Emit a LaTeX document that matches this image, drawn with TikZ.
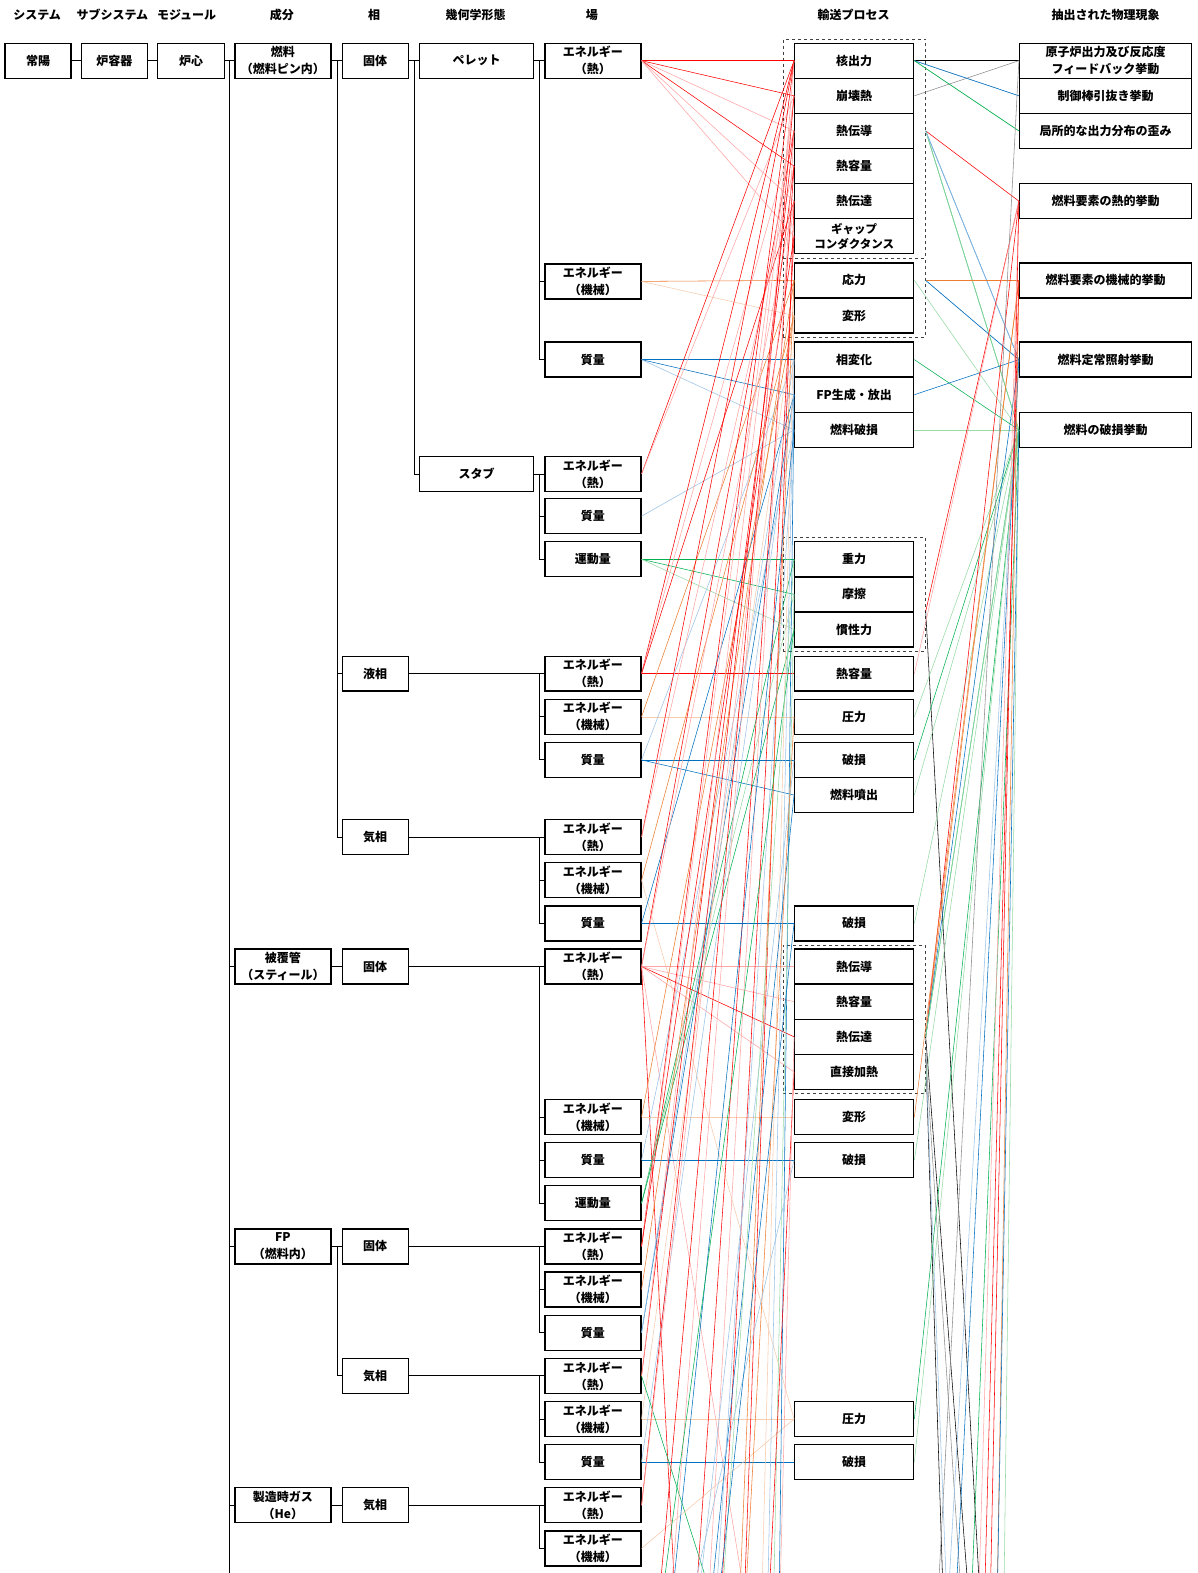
\documentclass[tikz,border=0pt]{standalone}
\usepackage{fontspec}
\setmainfont{Noto Sans CJK JP}
\usetikzlibrary{fit}

\definecolor{cR}{RGB}{255,0,0}
\definecolor{cRl}{RGB}{255,165,165}
\definecolor{cO}{RGB}{237,125,49}
\definecolor{cOl}{RGB}{248,203,173}
\definecolor{cB}{RGB}{0,112,192}
\definecolor{cBl}{RGB}{155,194,230}
\definecolor{cG}{RGB}{0,176,80}
\definecolor{cGl}{RGB}{150,218,165}
\definecolor{cGr}{RGB}{140,140,140}

\newcommand\lk[3]{\draw[#1] (#2) -- (#3);}

\begin{document}
\begin{tikzpicture}[x=1.0033pt,y=-1.0033pt,
  txt/.style={font=\fontsize{12}{17}\selectfont\bfseries},
  hdr/.style={txt, inner sep=0pt},
  box/.style={txt, draw=black, line width=1.3pt, fill=white, minimum height=35pt,
              inner sep=0.5pt, align=center},
  fld/.style={box, minimum width=96pt},
  trp/.style={box, minimum width=119pt},
  phn/.style={box, minimum width=172pt},
  grp/.style={draw=black!75, dashed, line width=0.7pt, inner xsep=11pt, inner ysep=3.5pt},
  tree/.style={draw=black, line width=0.9pt},
  ln/.style={line width=0.55pt},
  R/.style={ln, cR}, Rl/.style={ln, cRl}, O/.style={ln, cO}, Ol/.style={ln, cOl},
  B/.style={ln, cB}, Bl/.style={ln, cBl}, G/.style={ln, cG}, Gl/.style={ln, cGl},
  K/.style={ln, black}, Gr/.style={ln, cGr}]

\useasboundingbox (0,0) rectangle (1194,1568);
\clip (0,0) rectangle (1194,1568);
\fill[white] (0,0) rectangle (1194,1568);

% ---------------- column headings ----------------
\node[hdr] (hSys)  at (37,15)   {システム};
\node[hdr] (hSub)  at (112,15)  {サブシステム};
\node[hdr] (hMod)  at (186,15)  {モジュール};
\node[hdr] (hComp) at (281,15)  {成分};
\node[hdr] (hPh)   at (373,15)  {相};
\node[hdr] (hGeo)  at (474,15)  {幾何学形態};
\node[hdr] (hFld)  at (590,15)  {場};
\node[hdr] (hTr)   at (851,15)  {輸送プロセス};
\node[hdr] (hPhen) at (1102,15) {抽出された物理現象};

% ---------------- hierarchy boxes ----------------
\node[box, minimum width=66pt]  (sys)   at (38,60.5)    {常陽};
\node[box, minimum width=66pt]  (sub)   at (114,60.5)   {炉容器};
\node[box, minimum width=67pt]  (mod)   at (190.5,60.5) {炉心};
\node[box, minimum width=96pt]  (fuel)  at (282,60.5)   {燃料\\（燃料ピン内）};
\node[box, minimum width=66pt]  (fsol)  at (374,60.5)   {固体};
\node[box, minimum width=114pt] (pel)   at (475,60.5)   {ペレット};
\node[box, minimum width=114pt] (stub)  at (475,472.5)  {スタブ};
\node[box, minimum width=66pt]  (liq)   at (374,671.5)  {液相};
\node[box, minimum width=66pt]  (fgas)  at (374,834.5)  {気相};
\node[box, minimum width=96pt]  (clad)  at (282,963.5)  {被覆管\\（スティール）};
\node[box, minimum width=66pt]  (csol)  at (374,963.5)  {固体};
\node[box, minimum width=96pt]  (fp)    at (282,1242.5) {FP\\（燃料内）};
\node[box, minimum width=66pt]  (fpsol) at (374,1242.5) {固体};
\node[box, minimum width=66pt]  (fpgas) at (374,1371.5) {気相};
\node[box, minimum width=96pt]  (he)    at (282,1500.5) {製造時ガス\\（He）};
\node[box, minimum width=66pt]  (hegas) at (374,1500.5) {気相};

% ---------------- fields ----------------
\node[fld] (pE) at (591,60.5)   {エネルギー\\（熱）};
\node[fld] (pM) at (591,280.5)  {エネルギー\\（機械）};
\node[fld] (pQ) at (591,358.5)  {質量};
\node[fld] (sE) at (591,472.5)  {エネルギー\\（熱）};
\node[fld] (sQ) at (591,514.5)  {質量};
\node[fld] (sP) at (591,557.5)  {運動量};
\node[fld] (lE) at (591,671.5)  {エネルギー\\（熱）};
\node[fld] (lM) at (591,714.5)  {エネルギー\\（機械）};
\node[fld] (lQ) at (591,757.5)  {質量};
\node[fld] (gE) at (591,834.5)  {エネルギー\\（熱）};
\node[fld] (gM) at (591,877.5)  {エネルギー\\（機械）};
\node[fld] (gQ) at (591,920.5)  {質量};
\node[fld] (cE) at (591,963.5)  {エネルギー\\（熱）};
\node[fld] (cM) at (591,1113.5) {エネルギー\\（機械）};
\node[fld] (cQ) at (591,1156.5) {質量};
\node[fld] (cP) at (591,1199.5) {運動量};
\node[fld] (fE) at (591,1242.5) {エネルギー\\（熱）};
\node[fld] (fM) at (591,1285.5) {エネルギー\\（機械）};
\node[fld] (fQ) at (591,1328.5) {質量};
\node[fld] (vE) at (591,1371.5) {エネルギー\\（熱）};
\node[fld] (vM) at (591,1414.5) {エネルギー\\（機械）};
\node[fld] (vQ) at (591,1457.5) {質量};
\node[fld] (hE) at (591,1500.5) {エネルギー\\（熱）};
\node[fld] (hM) at (591,1543.5) {エネルギー\\（機械）};

% ---------------- transport processes ----------------
\node[trp] (t1)  at (851.5,60.5)   {核出力};
\node[trp] (t2)  at (851.5,95.5)   {崩壊熱};
\node[trp] (t3)  at (851.5,130.5)  {熱伝導};
\node[trp] (t4)  at (851.5,165.5)  {熱容量};
\node[trp] (t5)  at (851.5,200.5)  {熱伝達};
\node[trp, font=\fontsize{11.5}{15}\selectfont\bfseries] (t6)  at (851.5,235.5)  {ギャップ\\コンダクタンス};
\node[trp] (t7)  at (851.5,279.5)  {応力};
\node[trp] (t8)  at (851.5,314.5)  {変形};
\node[trp] (t9)  at (851.5,358.5)  {相変化};
\node[trp] (t10) at (851.5,393.5)  {FP生成・放出};
\node[trp] (t11) at (851.5,428.5)  {燃料破損};
\node[trp] (t12) at (851.5,557.5)  {重力};
\node[trp] (t13) at (851.5,592.5)  {摩擦};
\node[trp] (t14) at (851.5,627.5)  {慣性力};
\node[trp] (t15) at (851.5,671.5)  {熱容量};
\node[trp] (t16) at (851.5,714.5)  {圧力};
\node[trp] (t17) at (851.5,757.5)  {破損};
\node[trp] (t18) at (851.5,792.5)  {燃料噴出};
\node[trp] (t19) at (851.5,920.5)  {破損};
\node[trp] (t20) at (851.5,963.5)  {熱伝導};
\node[trp] (t21) at (851.5,998.5)  {熱容量};
\node[trp] (t22) at (851.5,1033.5) {熱伝達};
\node[trp] (t23) at (851.5,1068.5) {直接加熱};
\node[trp] (t24) at (851.5,1113.5) {変形};
\node[trp] (t25) at (851.5,1156.5) {破損};
\node[trp] (t26) at (851.5,1414.5) {圧力};
\node[trp] (t27) at (851.5,1457.5) {破損};

\node[grp, fit=(t1)(t6)]      (D1) {};
\node[grp, fit=(t7)(t8)]      (D2) {};
\node[grp, fit=(t12)(t14)]    (D3) {};
\node[grp, fit=(t20)(t23)]    (D4) {};

% ---------------- extracted phenomena ----------------
\node[phn] (r1) at (1102,60.5)  {原子炉出力及び反応度\\フィードバック挙動};
\node[phn] (r2) at (1102,95.5)  {制御棒引抜き挙動};
\node[phn] (r3) at (1102,130.5) {局所的な出力分布の歪み};
\node[phn] (r4) at (1102,200.5) {燃料要素の熱的挙動};
\node[phn] (r5) at (1102,279.5) {燃料要素の機械的挙動};
\node[phn] (r6) at (1102,358.5) {燃料定常照射挙動};
\node[phn] (r7) at (1102,428.5) {燃料の破損挙動};

% ---------------- hierarchy lines ----------------
\coordinate (trTop) at (229,60.5);
\coordinate (trBot) at (229,1600);
\coordinate (phTop) at (336,60.5);
\coordinate (gmTop) at (413,60.5);
\draw[tree] (sys.east) -- (sub.west);
\draw[tree] (sub.east) -- (mod.west);
\draw[tree] (mod.east) -- (fuel.west);
\draw[tree] (trTop) -- (trBot);
\draw[tree] (trTop |- clad.west) -- (clad.west);
\draw[tree] (trTop |- fp.west) -- (fp.west);
\draw[tree] (trTop |- he.west) -- (he.west);
\draw[tree] (fuel.east) -- (fsol.west);
\draw[tree] (phTop) |- (liq.west);
\draw[tree] (phTop) |- (fgas.west);
\draw[tree] (fsol.east) -- (pel.west);
\draw[tree] (gmTop) |- (stub.west);
\draw[tree] (clad.east) -- (csol.west);
\draw[tree] (fp.east) -- (fpsol.west);
\draw[tree] (fp.east) ++(6,0) |- (fpgas.west);
\draw[tree] (he.east) -- (hegas.west);
% phase / shape to fields
\draw[tree] (pel.east) -- (pE.west);
\draw[tree] (pE.west) ++(-5,0) |- (pM.west);
\draw[tree] (pE.west) ++(-5,0) |- (pQ.west);
\draw[tree] (stub.east) -- (sE.west);
\draw[tree] (sE.west) ++(-5,0) |- (sQ.west);
\draw[tree] (sE.west) ++(-5,0) |- (sP.west);
\draw[tree] (liq.east) -- (lE.west);
\draw[tree] (lE.west) ++(-5,0) |- (lM.west);
\draw[tree] (lE.west) ++(-5,0) |- (lQ.west);
\draw[tree] (fgas.east) -- (gE.west);
\draw[tree] (gE.west) ++(-5,0) |- (gM.west);
\draw[tree] (gE.west) ++(-5,0) |- (gQ.west);
\draw[tree] (csol.east) -- (cE.west);
\draw[tree] (cE.west) ++(-5,0) |- (cM.west);
\draw[tree] (cE.west) ++(-5,0) |- (cQ.west);
\draw[tree] (cE.west) ++(-5,0) |- (cP.west);
\draw[tree] (fpsol.east) -- (fE.west);
\draw[tree] (fE.west) ++(-5,0) |- (fM.west);
\draw[tree] (fE.west) ++(-5,0) |- (fQ.west);
\draw[tree] (fpgas.east) -- (vE.west);
\draw[tree] (vE.west) ++(-5,0) |- (vM.west);
\draw[tree] (vE.west) ++(-5,0) |- (vQ.west);
\draw[tree] (hegas.east) -- (hE.west);
\draw[tree] (hE.west) ++(-5,0) |- (hM.west);

% ---------------- ends of links running past the lower edge ----------------
\coordinate (oL1) at (652,1650);  \coordinate (oL2) at (664,1650);
\coordinate (oL3) at (676,1650);  \coordinate (oL4) at (690,1650);
\coordinate (oL5) at (703,1650);  \coordinate (oL6) at (716,1650);
\coordinate (oL7) at (728,1650);  \coordinate (oL8) at (740,1650);
\coordinate (oL9) at (752,1650);  \coordinate (oL10) at (764,1650);
\coordinate (oL11) at (776,1650); \coordinate (oL12) at (684,1650);
\coordinate (oL13) at (710,1650); \coordinate (oL14) at (735,1650);
\coordinate (oL15) at (758,1650); \coordinate (oL16) at (770,1650);
\coordinate (oR1) at (932,1650);  \coordinate (oR2) at (942,1650);
\coordinate (oR3) at (950,1650);  \coordinate (oR4) at (958,1650);
\coordinate (oR5) at (966,1650);  \coordinate (oR6) at (974,1650);
\coordinate (oR7) at (980,1650);  \coordinate (oR8) at (986,1650);
\coordinate (oR9) at (993,1650);  \coordinate (oR10) at (1000,1650);
\coordinate (oR11) at (946,1650); \coordinate (oR12) at (962,1650);
\coordinate (oR13) at (970,1650);

% ---------------- field -> transport links ----------------
% pellet
\lk{R}{pE.east}{t1.west} \lk{R}{pE.east}{t2.west} \lk{Rl}{pE.east}{t3.west}
\lk{R}{pE.east}{t4.west} \lk{Rl}{pE.east}{t5.west} \lk{Rl}{pE.east}{t6.west}
\lk{O}{pM.east}{t7.west} \lk{Ol}{pM.east}{t8.west}
\lk{B}{pQ.east}{t9.west} \lk{B}{pQ.east}{t10.west} \lk{Bl}{pQ.east}{t11.west}
% stub
\lk{R}{sE.east}{t1.west} \lk{Rl}{sE.east}{t2.west}
\lk{Bl}{sQ.east}{t11.west}
\lk{G}{sP.east}{t12.west} \lk{G}{sP.east}{t13.west} \lk{Gl}{sP.east}{t14.west}
% liquid
\lk{R}{lE.east}{t15.west} \lk{R}{lE.east}{t1.west} \lk{Rl}{lE.east}{t3.west} \lk{R}{lE.east}{t5.west}
\lk{Ol}{lM.east}{t16.west} \lk{O}{lM.east}{t7.west}
\lk{B}{lQ.east}{t17.west} \lk{B}{lQ.east}{t18.west} \lk{Bl}{lQ.east}{t9.west}
% gas
\lk{R}{gE.east}{t1.west} \lk{Rl}{gE.east}{t4.west}
\lk{Ol}{gM.east}{t26.west} \lk{O}{gM.east}{t8.west}
\lk{B}{gQ.east}{t19.west} \lk{B}{gQ.east}{t10.west}
% cladding
\lk{Rl}{cE.east}{t20.west} \lk{Rl}{cE.east}{t21.west} \lk{R}{cE.east}{t22.west} \lk{Rl}{cE.east}{t23.west}
\lk{R}{cE.east}{t3.west} \lk{Rl}{cE.east}{t5.west}
\lk{R}{cE.east}{oL3} \lk{Rl}{cE.east}{oL9}
\lk{Ol}{cM.east}{t24.west} \lk{O}{cM.east}{t8.west}
\lk{B}{cQ.east}{t25.west} \lk{Bl}{cQ.east}{t11.west}
\lk{G}{cP.east}{t12.west} \lk{Gl}{cP.east}{t13.west} \lk{G}{cP.east}{t14.west}
% fission products
\lk{R}{fE.east}{t1.west} \lk{Rl}{fE.east}{t2.west} \lk{R}{fE.east}{t6.west}
\lk{O}{fM.east}{t7.west}
\lk{B}{fQ.east}{t10.west} \lk{Bl}{fQ.east}{t9.west}
\lk{R}{vE.east}{t4.west} \lk{Rl}{vE.east}{t2.west}
\lk{Ol}{vM.east}{t26.west} \lk{Ol}{vM.east}{t8.west}
\lk{B}{vQ.east}{t27.west} \lk{Bl}{vQ.east}{t10.west}
\lk{G}{vE.east}{oL7}
% fill gas
\lk{R}{hE.east}{t3.west} \lk{Rl}{hE.east}{t5.west}
\lk{Ol}{hM.east}{t26.west}
% links from the lower part of the chart
\lk{R}{oL1}{t2.west}  \lk{Rl}{oL2}{t1.west}  \lk{R}{oL4}{t4.west}
\lk{Rl}{oL5}{t3.west} \lk{R}{oL6}{t6.west}   \lk{R}{oL8}{t5.west}
\lk{Bl}{oL10}{t9.west} \lk{B}{oL11}{t10.west} \lk{Bl}{oL13}{t11.west}
\lk{O}{oL14}{t7.west} \lk{Ol}{oL15}{t8.west} \lk{Gl}{oL16}{t13.west}
\lk{B}{oL2}{t11.west} \lk{Bl}{oL4}{t17.west}
\lk{G}{oL1}{t14.west} \lk{B}{oL5}{t18.west}
\lk{Gl}{oL6}{t12.west} \lk{O}{oL8}{t16.west} \lk{R}{oL10}{t23.west}
\lk{Rl}{oL11}{t22.west} \lk{Bl}{oL3}{t25.west} \lk{B}{oL13}{t19.west}

% ---------------- transport -> phenomena links ----------------
\lk{K}{t1.east}{r1.west} \lk{Gr}{t2.east}{r1.west}
\lk{Bl}{t1.east}{r2.west} \lk{B}{t1.east}{r2.west}
\lk{Gl}{t1.east}{r3.west} \lk{G}{t1.east}{r3.west}
\lk{R}{t3.east -| D1.east}{r4.west}
\lk{B}{t3.east -| D1.east}{r6.west}
\lk{G}{t3.east -| D1.east}{r7.west}
\lk{Gl}{t3.east -| D1.east}{r7.west}
\lk{Bl}{t3.east -| D1.east}{r6.west}
\lk{O}{t7.east -| D2.east}{r5.west}
\lk{Bl}{t7.east -| D2.east}{r6.west}
\lk{B}{t7.east -| D2.east}{r6.west}
\lk{Gl}{t7.east}{r7.west}
\lk{G}{t9.east}{r7.west}
\lk{B}{t10.east}{r6.west}
\lk{Gl}{t11.east}{r7.west}
\lk{R}{t14.north -| D3.east}{r4.west}
\lk{K}{t14.north -| D3.east}{oR7}
\lk{Rl}{t15.east}{r4.west}
\lk{Gl}{t16.east}{r7.west}
\lk{G}{t17.east}{r7.west}
\lk{Gl}{t18.east}{r7.west}
\lk{Gl}{t19.east}{r7.west}
\lk{R}{t22.east -| D4.east}{r4.west}
\lk{O}{t22.east -| D4.east}{r5.west}
\lk{B}{t22.east -| D4.east}{r6.west}
\lk{G}{t22.east -| D4.east}{r7.west}
\lk{Gl}{t22.east -| D4.east}{r7.west}
\lk{K}{t23.north -| D4.east}{oR2}
\lk{Bl}{t23.north -| D4.east}{oR11}
\lk{Gr}{t23.north -| D4.east}{oR12}
\lk{K}{t22.east -| D4.east}{oR13}
\lk{O}{t24.east}{r5.west}
\lk{Gl}{t25.east}{r7.west}
\lk{G}{t26.east}{r7.west}
\lk{Gl}{t27.east}{r7.west}
% from the lower part of the chart
\lk{Gr}{oR1}{r1.west}
\lk{Bl}{oR2}{r6.west}
\lk{B}{oR3}{r6.west}
\lk{G}{oR5}{r7.west}
\lk{Rl}{oR6}{r4.west}
\lk{R}{oR8}{r4.west}
\lk{O}{oR9}{r5.west}
\lk{Gl}{oR10}{r7.west}
\lk{B}{oR9}{r7.west}
\lk{R}{oR7}{r5.west}
\end{tikzpicture}
\end{document}
